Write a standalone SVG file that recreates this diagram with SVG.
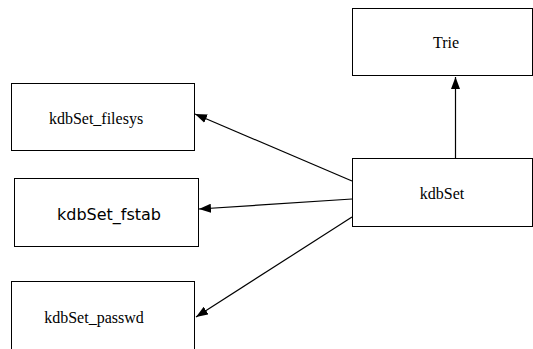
<svg xmlns="http://www.w3.org/2000/svg" width="533" height="349" viewBox="0 0 533 349">
<style>
.box{fill:#fff;stroke:#000;stroke-width:1}
.serif{font-family:"Liberation Serif","Times New Roman",serif;font-size:16px;fill:#000;text-anchor:middle}
.sans{font-family:"DejaVu Sans",sans-serif;font-size:16px;fill:#000;text-anchor:middle}
.edge{stroke:#000;stroke-width:1.2;fill:none;marker-end:url(#arr)}
</style>
<defs>
<marker id="arr" markerUnits="userSpaceOnUse" markerWidth="12" markerHeight="9" refX="12" refY="4.5" orient="auto">
<path d="M0,0 L12,4.5 L0,9 z" fill="#000"/>
</marker>
</defs>
<rect width="533" height="349" fill="#fff"/>
<g id="edges">
<line class="edge" x1="455.5" y1="158" x2="455.5" y2="77"/>
<line class="edge" x1="352" y1="181" x2="195" y2="114"/>
<line class="edge" x1="352" y1="199" x2="199" y2="209"/>
<line class="edge" x1="352" y1="217" x2="196" y2="317"/>
</g>
<g id="node-trie">
<rect class="box" x="352.5" y="8.5" width="180" height="67"/>
<text class="serif" x="446" y="48">Trie</text>
</g>
<g id="node-kdbset">
<rect class="box" x="352.5" y="158.5" width="180" height="68"/>
<text class="serif" x="442" y="199">kdbSet</text>
</g>
<g id="node-filesys">
<rect class="box" x="11.5" y="83.5" width="183" height="67"/>
<text class="serif" x="96" y="124">kdbSet_filesys</text>
</g>
<g id="node-fstab">
<rect class="box" x="14.5" y="178.5" width="184" height="68"/>
<text class="sans" x="109" y="220">kdbSet_fstab</text>
</g>
<g id="node-passwd">
<rect class="box" x="11.5" y="281.5" width="183" height="80"/>
<text class="serif" x="94" y="323">kdbSet_passwd</text>
</g>
</svg>
